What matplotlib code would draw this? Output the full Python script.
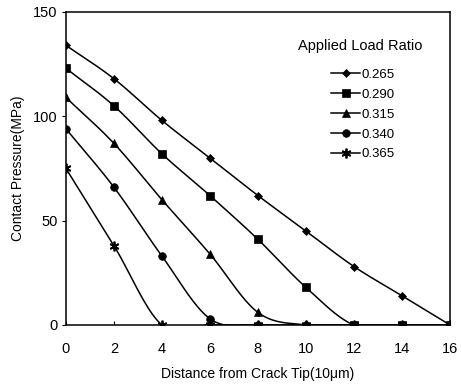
import numpy as np
import matplotlib.pyplot as plt

plt.rcParams['font.family'] = ['Liberation Sans', 'DejaVu Sans']

# distance from crack tip (x10 um)
dist = [0, 2, 4, 6, 8, 10, 12, 14, 16]

# contact pressure (MPa) per applied load ratio
p_265 = [134, 118, 98, 80, 62, 45, 28, 14, 0]
p_290 = [123, 105, 82, 62, 41, 18, 0, 0, 0]
p_315 = [109, 87, 60, 34, 6, 0, 0, 0, 0]
p_340 = [94, 66, 33, 3, 0, 0, 0, 0, 0]
p_365 = [75, 38, 0, 0, 0, 0, 0, 0, 0]

ratios = ['0.265', '0.290', '0.315', '0.340', '0.365']
series = [p_265, p_290, p_315, p_340, p_365]
markers = ['D', 's', '^', 'o', (6, 2, 0)]
msizes = [4.5, 5.5, 6, 5.5, 7]


def smooth(x, y, n=20):
    # Catmull-Rom curve through the points, like a spreadsheet "smoothed line"
    x = np.asarray(x, float)
    y = np.asarray(y, float)
    px = np.concatenate([[2 * x[0] - x[1]], x, [2 * x[-1] - x[-2]]])
    py = np.concatenate([[2 * y[0] - y[1]], y, [2 * y[-1] - y[-2]]])
    xs, ys = [], []
    t = np.linspace(0, 1, n, endpoint=False)
    for i in range(1, len(px) - 2):
        for arr, out in ((px, xs), (py, ys)):
            p0, p1, p2, p3 = arr[i - 1], arr[i], arr[i + 1], arr[i + 2]
            out.extend(0.5 * (2 * p1 + (-p0 + p2) * t
                              + (2 * p0 - 5 * p1 + 4 * p2 - p3) * t ** 2
                              + (-p0 + 3 * p1 - 3 * p2 + p3) * t ** 3))
    xs.append(x[-1])
    ys.append(y[-1])
    return xs, ys


fig = plt.figure(figsize=(4.61, 3.85), dpi=100)
ax = fig.add_axes([0.143, 0.156, 0.833, 0.813])

for lab, vals, m, ms in zip(ratios, series, markers, msizes):
    mew = 1.3 if m == (6, 2, 0) else 0.5
    sx, sy = smooth(dist, vals)
    ax.plot(sx, sy, color='black', lw=1.1)
    ax.plot(dist, vals, ls='none', marker=m, ms=ms, color='black', mew=mew)
    ax.plot([], [], color='black', lw=1.1, marker=m, ms=ms, mew=mew, label=lab)

ax.set_xlim(0, 16)
ax.set_ylim(0, 150)
ax.set_xticks(range(0, 17, 2))
ax.set_yticks([0, 50, 100, 150])
ax.tick_params(axis='x', direction='in', length=3, labelsize=10.5, pad=12)
ax.tick_params(axis='y', direction='out', length=3, labelsize=10.5, pad=3)
for s in ax.spines.values():
    s.set_linewidth(1.1)

ax.set_xlabel('Distance from Crack Tip(10\u03bcm)', fontsize=10, labelpad=8)
ax.set_ylabel('Contact Pressure(MPa)', fontsize=10, labelpad=6)

ax.text(0.766, 0.89, 'Applied Load Ratio', transform=ax.transAxes,
        ha='center', va='center', fontsize=10.5)
ax.legend(loc='upper left', bbox_to_anchor=(0.674, 0.84), frameon=False,
          fontsize=9.5, handlelength=2.2, handletextpad=0.1, labelspacing=0.58,
          borderpad=0.0)

fig.savefig('out.png', dpi=100)
